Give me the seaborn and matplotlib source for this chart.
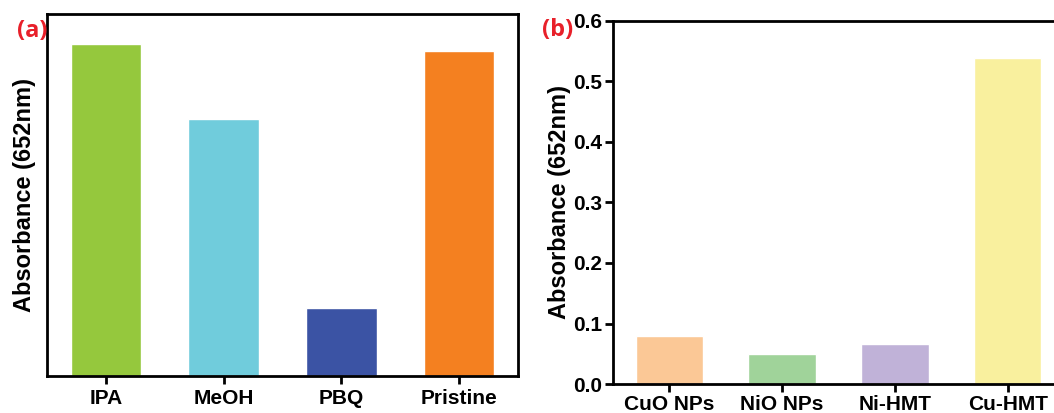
import matplotlib
matplotlib.use("Agg")
import matplotlib.pyplot as plt
import seaborn as sns

# === Data ===
scav_labels = ["IPA", "MeOH", "PBQ", "Pristine"]
scav_values = [0.917, 0.710, 0.188, 0.898]
scav_colors = ["#95C83D", "#70CCDC", "#3B53A4", "#F48020"]

cat_labels = ["CuO NPs", "NiO NPs", "Ni-HMT", "Cu-HMT"]
cat_values = [0.079, 0.050, 0.066, 0.539]
cat_colors = ["#FBC896", "#A0D39A", "#C0B2D8", "#F9F09E"]
cat_yticks = [0.0, 0.1, 0.2, 0.3, 0.4, 0.5, 0.6]

sns.set_style("white")
plt.rcParams["font.family"] = ["Liberation Sans", "DejaVu Sans"]
plt.rcParams["font.weight"] = "bold"
for key in ("text.color", "axes.labelcolor", "xtick.color", "ytick.color"):
    plt.rcParams[key] = "black"

fig = plt.figure(figsize=(10.54, 4.13), dpi=100)

# === Panel (a) ===
ax1 = fig.add_axes([0.0446, 0.0896, 0.4469, 0.8765])
sns.barplot(x=scav_labels, y=scav_values, hue=scav_labels, palette=scav_colors,
            width=0.6, saturation=1, legend=False, ax=ax1)
ax1.set_xlim(-0.5, 3.5)
ax1.set_ylim(0, 1.0)
ax1.set_yticks([])
ax1.set_ylabel("Absorbance (652nm)", fontsize=17, fontweight="bold", labelpad=8)
ax1.tick_params(axis="x", direction="out", length=6, width=2, labelsize=15, bottom=True)

# === Panel (b) ===
ax2 = fig.add_axes([0.5816, 0.0702, 0.4279, 0.879])
sns.barplot(x=cat_labels, y=cat_values, hue=cat_labels, palette=cat_colors,
            width=0.6, saturation=1, legend=False, ax=ax2)
ax2.set_xlim(-0.5, 3.5)
ax2.set_ylim(0, 0.6)
ax2.set_yticks(cat_yticks)
ax2.set_yticklabels([f"{v:.1f}" for v in cat_yticks])
ax2.set_ylabel("Absorbance (652nm)", fontsize=17, fontweight="bold", labelpad=1)
ax2.tick_params(axis="both", direction="out", length=6, width=2, labelsize=15,
                bottom=True, left=True, pad=2)

for ax in (ax1, ax2):
    for sp in ax.spines.values():
        sp.set_linewidth(2)
        sp.set_color("black")
    for lbl in ax.get_xticklabels() + ax.get_yticklabels():
        lbl.set_fontweight("bold")

# panel letters
fig.text(0.016, 0.925, "(a)", color="#E8202A", fontsize=17, fontweight="bold",
         va="center", family=["Open Sans", "DejaVu Sans"])
fig.text(0.514, 0.928, "(b)", color="#E8202A", fontsize=17, fontweight="bold",
         va="center", family=["Open Sans", "DejaVu Sans"])

fig.savefig("out.png", dpi=100)
plt.close(fig)
